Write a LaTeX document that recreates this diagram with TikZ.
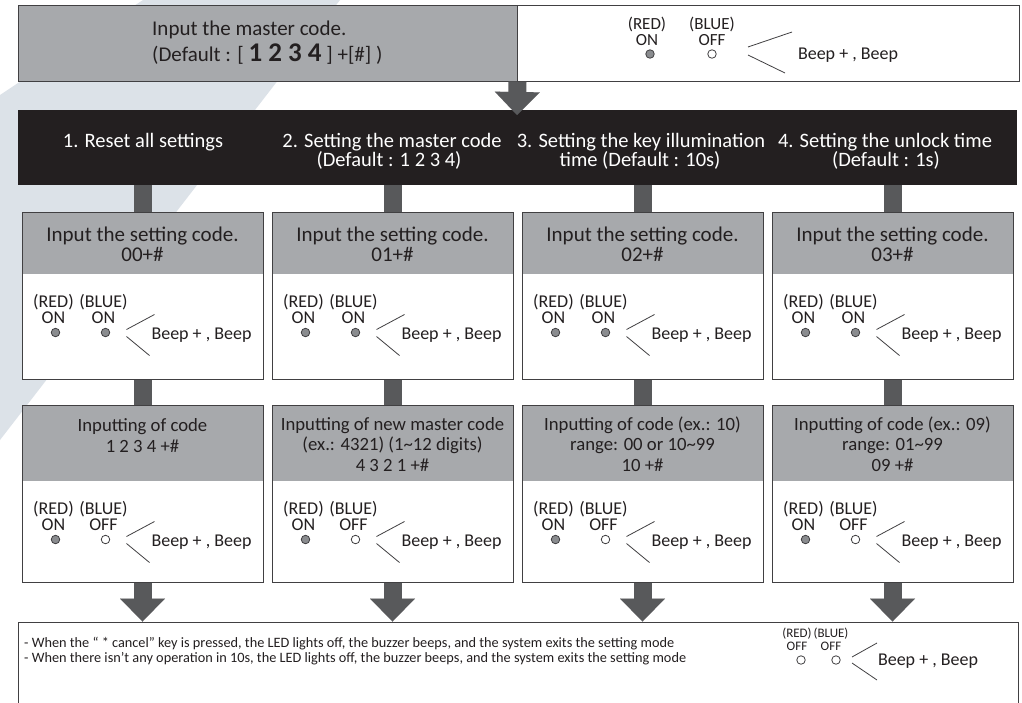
\documentclass[tikz,border=0pt]{standalone}
\usepackage{fontspec}
\setmainfont{Carlito}
\usetikzlibrary{arrows.meta,calc}
\definecolor{bandc}{HTML}{DCE2E8}
\definecolor{hdrc}{HTML}{A7A9AC}
\definecolor{arrowc}{HTML}{58595B}
\definecolor{barc}{HTML}{231F20}
\definecolor{borderc}{HTML}{414042}
\definecolor{txtc}{HTML}{231F20}
\definecolor{dotc}{HTML}{8A8C8F}
\tikzset{
 txt/.style={font=\fontsize{21}{24}\selectfont, inner sep=0pt, text=txtc},
 txtb/.style={font=\fontsize{18.7}{22}\selectfont, inner sep=0pt, text=txtc},
 bartxt/.style={font=\fontsize{20.5}{24}\selectfont, inner sep=0pt, text=white},
 led/.style={font=\fontsize{18}{20}\selectfont, inner sep=0pt, text=txtc},
 ledtop/.style={font=\fontsize{17}{19}\selectfont, inner sep=0pt, text=txtc},
 ledsm/.style={font=\fontsize{13}{15}\selectfont, inner sep=0pt, text=txtc},
 smalltxt/.style={font=\fontsize{14.3}{16}\selectfont, inner sep=0pt, text=txtc},
 ledon/.style={circle, draw=borderc, fill=dotc, line width=0.8pt, minimum size=8.5pt, inner sep=0pt},
 ledoff/.style={circle, draw=borderc, fill=white, line width=0.8pt, minimum size=8.5pt, inner sep=0pt},
 beepline/.style={draw=borderc, line width=0.8pt},
 card/.style={draw=borderc, line width=1pt, fill=white, minimum width=241pt, inner sep=0pt},
 cardA/.style={card, minimum height=167pt, path picture={\fill[hdrc] (path picture bounding box.north west) rectangle ([yshift=-62pt]path picture bounding box.north east);}},
 cardB/.style={card, minimum height=177pt, path picture={\fill[hdrc] (path picture bounding box.north west) rectangle ([yshift=-76pt]path picture bounding box.north east);}},
 stem/.style={draw=arrowc, line width=18pt},
 bigarrow/.style={draw=arrowc, line width=18pt, -{Triangle[width=45pt,length=23pt,line width=0.01pt]}},
}
\newcommand\ledrow[7]{%
 \coordinate (#1o) at ($(#2.north west)+(0,#3)$);
 \node[led,anchor=base] (#1rl) at ($(#1o)+(32,34)$) {(RED)};
 \node[led,anchor=base] (#1rs) at ($(#1o)+(32,50)$) {#4};
 \node[#5] (#1rd) at ($(#1o)+(34,59)$) {};
 \node[led,anchor=base] (#1bl) at ($(#1o)+(82,34)$) {(BLUE)};
 \node[led,anchor=base] (#1bs) at ($(#1o)+(82,50)$) {#6};
 \node[#7] (#1bd) at ($(#1o)+(84,59)$) {};
 \draw[beepline] ($(#1o)+(105,56)$) -- ($(#1o)+(133,41)$);
 \draw[beepline] ($(#1o)+(105,63)$) -- ($(#1o)+(128,82)$);
 \node[led,anchor=base] (#1beep) at ($(#1o)+(180,66)$) {Beep + , Beep};
}
\begin{document}
\begin{tikzpicture}[x=1pt,y=-1pt]
\useasboundingbox[fill=white] (0,0) rectangle (1022,702);
\fill[bandc] (143,0) -- (340,0) -- (0,440) -- (0,95) -- cycle;

% top bar
\node[draw=borderc, line width=1pt, fill=hdrc, minimum width=499pt, minimum height=76pt, inner sep=0pt] (mc) at (267.5,43) {};
\node[draw=borderc, line width=1pt, fill=white, minimum width=502pt, minimum height=76pt, inner sep=0pt] (mled) at (768,43) {};
\node[txt, anchor=base west] (mct1) at (152,35) {Input the master code.};
\node[txt, anchor=base west] (mct2) at (152,61) {(Default : [ {\fontsize{27}{30}\selectfont\bfseries 1 2 3 4} ] +[\#] )};
\node[ledtop, anchor=base] (mr) at (647,29) {(RED)};
\node[ledtop, anchor=base] (mron) at (647,45) {ON};
\node[ledon] (mrd) at (650,54) {};
\node[ledtop, anchor=base] (mb) at (712,29) {(BLUE)};
\node[ledtop, anchor=base] (mboff) at (712,45) {OFF};
\node[ledoff] (mbd) at (712,54) {};
\draw[beepline] (748,47) -- (792,32);
\draw[beepline] (748,55) -- (785,73);
\node[led, anchor=base] (mbeep) at (848,59) {Beep + , Beep};

% black bar
\node[fill=barc, minimum width=999pt, minimum height=75pt, inner sep=0pt] (bar) at (517.5,147.5) {};
\coordinate (tipA) at (517,115);
\draw[bigarrow] (mc.south east) -- (tipA);
\node[bartxt, anchor=base] (h1) at (143,147) {1. Reset all settings};
\node[bartxt, anchor=base] (h2a) at (392,147) {2. Setting the master code};
\node[bartxt, anchor=base] (h2b) at (389,166) {(Default : 1 2 3 4)};
\node[bartxt, anchor=base] (h3a) at (641,147) {3. Setting the key illumination};
\node[bartxt, anchor=base] (h3b) at (640,166) {time (Default : 10s)};
\node[bartxt, anchor=base] (h4a) at (885,147) {4. Setting the unlock time};
\node[bartxt, anchor=base] (h4b) at (886,166) {(Default : 1s)};

% cards row 1
\node[cardA] (c11) at (142.5,295.5) {};
\node[cardA] (c12) at (392.5,295.5) {};
\node[cardA] (c13) at (642.5,295.5) {};
\node[cardA] (c14) at (892.5,295.5) {};
% cards row 2
\node[cardB] (c21) at (142.5,493.5) {};
\node[cardB] (c22) at (392.5,493.5) {};
\node[cardB] (c23) at (642.5,493.5) {};
\node[cardB] (c24) at (892.5,493.5) {};

% bottom box
\node[draw=borderc, line width=1pt, fill=white, minimum width=1000pt, minimum height=84pt, inner sep=0pt] (exit) at (518,664) {};

% stems and arrows
\foreach \c in {1,2,3,4}{
 \draw[stem] (c1\c.north |- bar.south) -- (c1\c.north);
 \draw[stem] (c1\c.south) -- (c2\c.north);
 \draw[bigarrow] (c2\c.south) -- (c2\c.south |- exit.north);
}

% row 1 header texts
\node[txt, anchor=base] (t11a) at ($(c11.north)+(0,30)$) {Input the setting code.};
\node[txt, anchor=base] (t11b) at ($(c11.north)+(0,50)$) {00+\#};
\node[txt, anchor=base] (t12a) at ($(c12.north)+(0,30)$) {Input the setting code.};
\node[txt, anchor=base] (t12b) at ($(c12.north)+(0,50)$) {01+\#};
\node[txt, anchor=base] (t13a) at ($(c13.north)+(0,30)$) {Input the setting code.};
\node[txt, anchor=base] (t13b) at ($(c13.north)+(0,50)$) {02+\#};
\node[txt, anchor=base] (t14a) at ($(c14.north)+(0,30)$) {Input the setting code.};
\node[txt, anchor=base] (t14b) at ($(c14.north)+(0,50)$) {03+\#};

% row 2 header texts
\node[txtb, anchor=base] (t21a) at ($(c21.north)+(0,27)$) {Inputting of code};
\node[txtb, anchor=base] (t21b) at ($(c21.north)+(0,48)$) {1 2 3 4 +\#};
\node[txtb, anchor=base] (t22a) at ($(c22.north)+(0,26)$) {Inputting of new master code};
\node[txtb, anchor=base] (t22b) at ($(c22.north)+(0,46)$) {(ex.: 4321) (1\textasciitilde12 digits)};
\node[txtb, anchor=base] (t22c) at ($(c22.north)+(0,67)$) {4 3 2 1 +\#};
\node[txtb, anchor=base] (t23a) at ($(c23.north)+(0,26)$) {Inputting of code (ex.: 10)};
\node[txtb, anchor=base] (t23b) at ($(c23.north)+(0,46)$) {range: 00 or 10\textasciitilde99};
\node[txtb, anchor=base] (t23c) at ($(c23.north)+(0,67)$) {10 +\#};
\node[txtb, anchor=base] (t24a) at ($(c24.north)+(0,26)$) {Inputting of code (ex.: 09)};
\node[txtb, anchor=base] (t24b) at ($(c24.north)+(0,46)$) {range: 01\textasciitilde99};
\node[txtb, anchor=base] (t24c) at ($(c24.north)+(0,67)$) {09 +\#};

% LED rows
\ledrow{a1}{c11}{62}{ON}{ledon}{ON}{ledon}
\ledrow{a2}{c12}{62}{ON}{ledon}{ON}{ledon}
\ledrow{a3}{c13}{62}{ON}{ledon}{ON}{ledon}
\ledrow{a4}{c14}{62}{ON}{ledon}{ON}{ledon}
\ledrow{b1}{c21}{76}{ON}{ledon}{OFF}{ledoff}
\ledrow{b2}{c22}{76}{ON}{ledon}{OFF}{ledoff}
\ledrow{b3}{c23}{76}{ON}{ledon}{OFF}{ledoff}
\ledrow{b4}{c24}{76}{ON}{ledon}{OFF}{ledoff}

% bottom texts
\node[smalltxt, anchor=base west] (e1) at (24,647) {- When the “ * cancel” key is pressed, the LED lights off, the buzzer beeps, and the system exits the setting mode};
\node[smalltxt, anchor=base west] (e2) at (24,662) {- When there isn’t any operation in 10s, the LED lights off, the buzzer beeps, and the system exits the setting mode};
\node[ledsm, anchor=base] (er) at (797,637) {(RED)};
\node[ledsm, anchor=base] (eroff) at (797,650) {OFF};
\node[ledoff] (erd) at (801,660) {};
\node[ledsm, anchor=base] (eb) at (831,637) {(BLUE)};
\node[ledsm, anchor=base] (eboff) at (831,650) {OFF};
\node[ledoff] (ebd) at (836,660) {};
\draw[beepline] (852,657) -- (877,643);
\draw[beepline] (852,663) -- (877,680);
\node[led, anchor=base] (ebeep) at (928,665) {Beep + , Beep};
\end{tikzpicture}
\end{document}
